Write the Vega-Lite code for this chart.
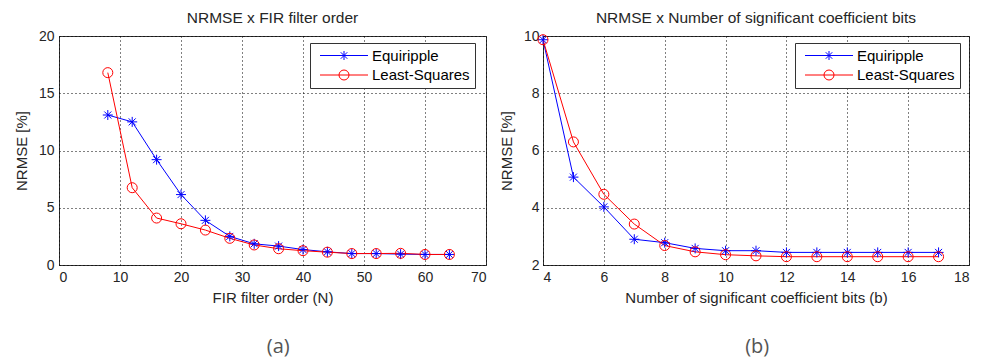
{
  "$schema": "https://vega.github.io/schema/vega-lite/v6.json",
  "background": "white",
  "padding": {"left": 13, "top": 10, "right": 5, "bottom": 0},
  "spacing": 11,
  "resolve": {"scale": {"color": "independent", "shape": "independent"}, "legend": {"color": "independent", "shape": "independent"}},
  "datasets": {
    "fir": [
      {"x": 8, "y": 13.1, "series": "Equiripple"},
      {"x": 12, "y": 12.5, "series": "Equiripple"},
      {"x": 16, "y": 9.2, "series": "Equiripple"},
      {"x": 20, "y": 6.15, "series": "Equiripple"},
      {"x": 24, "y": 3.9, "series": "Equiripple"},
      {"x": 28, "y": 2.5, "series": "Equiripple"},
      {"x": 32, "y": 1.85, "series": "Equiripple"},
      {"x": 36, "y": 1.65, "series": "Equiripple"},
      {"x": 40, "y": 1.35, "series": "Equiripple"},
      {"x": 44, "y": 1.15, "series": "Equiripple"},
      {"x": 48, "y": 1.0, "series": "Equiripple"},
      {"x": 52, "y": 1.0, "series": "Equiripple"},
      {"x": 56, "y": 0.95, "series": "Equiripple"},
      {"x": 60, "y": 0.92, "series": "Equiripple"},
      {"x": 64, "y": 0.92, "series": "Equiripple"},
      {"x": 8, "y": 16.8, "series": "Least-Squares"},
      {"x": 12, "y": 6.75, "series": "Least-Squares"},
      {"x": 16, "y": 4.1, "series": "Least-Squares"},
      {"x": 20, "y": 3.6, "series": "Least-Squares"},
      {"x": 24, "y": 3.05, "series": "Least-Squares"},
      {"x": 28, "y": 2.33, "series": "Least-Squares"},
      {"x": 32, "y": 1.75, "series": "Least-Squares"},
      {"x": 36, "y": 1.42, "series": "Least-Squares"},
      {"x": 40, "y": 1.25, "series": "Least-Squares"},
      {"x": 44, "y": 1.12, "series": "Least-Squares"},
      {"x": 48, "y": 1.0, "series": "Least-Squares"},
      {"x": 52, "y": 1.0, "series": "Least-Squares"},
      {"x": 56, "y": 1.02, "series": "Least-Squares"},
      {"x": 60, "y": 0.92, "series": "Least-Squares"},
      {"x": 64, "y": 0.92, "series": "Least-Squares"}
    ],
    "bits": [
      {"x": 4, "y": 9.87, "series": "Equiripple"},
      {"x": 5, "y": 5.07, "series": "Equiripple"},
      {"x": 6, "y": 4.03, "series": "Equiripple"},
      {"x": 7, "y": 2.9, "series": "Equiripple"},
      {"x": 8, "y": 2.78, "series": "Equiripple"},
      {"x": 9, "y": 2.58, "series": "Equiripple"},
      {"x": 10, "y": 2.5, "series": "Equiripple"},
      {"x": 11, "y": 2.5, "series": "Equiripple"},
      {"x": 12, "y": 2.44, "series": "Equiripple"},
      {"x": 13, "y": 2.44, "series": "Equiripple"},
      {"x": 14, "y": 2.44, "series": "Equiripple"},
      {"x": 15, "y": 2.44, "series": "Equiripple"},
      {"x": 16, "y": 2.44, "series": "Equiripple"},
      {"x": 17, "y": 2.44, "series": "Equiripple"},
      {"x": 4, "y": 9.87, "series": "Least-Squares"},
      {"x": 5, "y": 6.3, "series": "Least-Squares"},
      {"x": 6, "y": 4.47, "series": "Least-Squares"},
      {"x": 7, "y": 3.43, "series": "Least-Squares"},
      {"x": 8, "y": 2.68, "series": "Least-Squares"},
      {"x": 9, "y": 2.46, "series": "Least-Squares"},
      {"x": 10, "y": 2.36, "series": "Least-Squares"},
      {"x": 11, "y": 2.32, "series": "Least-Squares"},
      {"x": 12, "y": 2.29, "series": "Least-Squares"},
      {"x": 13, "y": 2.29, "series": "Least-Squares"},
      {"x": 14, "y": 2.29, "series": "Least-Squares"},
      {"x": 15, "y": 2.29, "series": "Least-Squares"},
      {"x": 16, "y": 2.29, "series": "Least-Squares"},
      {"x": 17, "y": 2.29, "series": "Least-Squares"}
    ]
  },
  "config": {
    "font": "Liberation Sans",
    "view": {"stroke": "#333333", "strokeWidth": 1},
    "axis": {
      "domain": false,
      "ticks": false,
      "grid": true,
      "gridColor": "#000000",
      "gridDash": [1, 3],
      "gridOpacity": 1,
      "gridWidth": 1,
      "labelFont": "Liberation Sans",
      "labelFontSize": 14,
      "labelColor": "#262626",
      "labelPadding": 5,
      "titleFont": "Liberation Sans",
      "titleFontSize": 15,
      "titleFontWeight": "normal",
      "titleColor": "#262626"
    },
    "axisY": {"titlePadding": 9},
    "axisX": {"titlePadding": 6},
    "title": {
      "font": "Liberation Sans",
      "fontSize": 15.5,
      "fontWeight": "normal",
      "color": "#262626",
      "offset": 3
    },
    "legend": {
      "labelFont": "Liberation Sans",
      "labelFontSize": 15,
      "labelColor": "#000000",
      "labelAlign": "left",
      "strokeColor": "#333333",
      "fillColor": "#ffffff",
      "padding": 5,
      "rowPadding": 3.5,
      "symbolSize": 100,
      "symbolStrokeWidth": 1,
      "symbolOffset": 0,
      "labelOffset": 42,
      "symbolOpacity": 1,
      "title": null
    }
  },
  "hconcat": [
    {
      "title": {"text": "(a)", "orient": "bottom", "anchor": "middle", "font": "Open Sans", "fontSize": 20, "color": "#555555", "offset": 31, "frame": "bounds", "dx": 28},
      "vconcat": [
        {
          "title": {"text": "NRMSE x FIR filter order", "frame": "group"},
          "width": 427,
          "height": 229,
          "data": {"name": "fir"},
          "encoding": {
            "x": {"field": "x", "type": "quantitative", "scale": {"domain": [0, 70], "nice": false}, "axis": {"values": [0, 10, 20, 30, 40, 50, 60, 70], "title": "FIR filter order (N)"}},
            "y": {"field": "y", "type": "quantitative", "scale": {"domain": [0, 20], "nice": false}, "axis": {"values": [0, 5, 10, 15, 20], "title": "NRMSE [%]"}}
          },
          "layer": [
            {
              "transform": [{"filter": "datum.series === 'Equiripple'"}],
              "mark": {"type": "line", "strokeWidth": 1, "color": "#0000ff"}
            },
            {
              "transform": [{"filter": "datum.series === 'Least-Squares'"}],
              "mark": {"type": "line", "strokeWidth": 1, "color": "#ff0000"}
            },
            {
              "transform": [{"filter": "datum.series === 'Equiripple'"}],
              "mark": {"type": "point", "filled": false, "strokeWidth": 1, "size": 100, "opacity": 1, "color": "#0000ff", "shape": "M-1,0L1,0M0,-1L0,1M-0.7,-0.7L0.7,0.7M-0.7,0.7L0.7,-0.7"}
            },
            {
              "transform": [{"filter": "datum.series === 'Least-Squares'"}],
              "mark": {"type": "point", "filled": false, "strokeWidth": 1, "size": 100, "opacity": 1, "color": "#ff0000", "shape": "circle"}
            },
            {
              "mark": {"type": "point", "filled": false, "opacity": 0},
              "encoding": {
                "color": {"field": "series", "type": "nominal", "scale": {"domain": ["Equiripple", "Least-Squares"], "range": ["#0000ff", "#ff0000"]}, "legend": {"orient": "none", "legendX": 251, "legendY": 7, "symbolOpacity": 1}},
                "shape": {"field": "series", "type": "nominal", "scale": {"domain": ["Equiripple", "Least-Squares"], "range": ["M-0.5,0L9.1,0M4.3,-0.9L4.3,0.9M3.65,-0.65L4.95,0.65M3.65,0.65L4.95,-0.65", "M-0.5,0L9.1,0M5.3,0A1,1,0,1,1,3.3,0A1,1,0,1,1,5.3,0"]}, "legend": {"orient": "none", "legendX": 251, "legendY": 7, "symbolOpacity": 1}}
              }
            }
          ]
        }
      ]
    },
    {
      "title": {"text": "(b)", "orient": "bottom", "anchor": "middle", "font": "Open Sans", "fontSize": 20, "color": "#555555", "offset": 31, "frame": "bounds", "dx": 23},
      "vconcat": [
        {
          "title": {"text": "NRMSE x Number of significant coefficient bits", "frame": "group"},
          "width": 426,
          "height": 229,
          "data": {"name": "bits"},
          "encoding": {
            "x": {"field": "x", "type": "quantitative", "scale": {"domain": [4, 18], "nice": false}, "axis": {"values": [4, 6, 8, 10, 12, 14, 16, 18], "title": "Number of significant coefficient bits (b)"}},
            "y": {"field": "y", "type": "quantitative", "scale": {"domain": [2, 10], "nice": false, "zero": false}, "axis": {"values": [2, 4, 6, 8, 10], "title": "NRMSE [%]", "labelPadding": 4}}
          },
          "layer": [
            {
              "transform": [{"filter": "datum.series === 'Equiripple'"}],
              "mark": {"type": "line", "strokeWidth": 1, "color": "#0000ff"}
            },
            {
              "transform": [{"filter": "datum.series === 'Least-Squares'"}],
              "mark": {"type": "line", "strokeWidth": 1, "color": "#ff0000"}
            },
            {
              "transform": [{"filter": "datum.series === 'Equiripple'"}],
              "mark": {"type": "point", "filled": false, "strokeWidth": 1, "size": 100, "opacity": 1, "color": "#0000ff", "shape": "M-1,0L1,0M0,-1L0,1M-0.7,-0.7L0.7,0.7M-0.7,0.7L0.7,-0.7"}
            },
            {
              "transform": [{"filter": "datum.series === 'Least-Squares'"}],
              "mark": {"type": "point", "filled": false, "strokeWidth": 1, "size": 100, "opacity": 1, "color": "#ff0000", "shape": "circle"}
            },
            {
              "mark": {"type": "point", "filled": false, "opacity": 0},
              "encoding": {
                "color": {"field": "series", "type": "nominal", "scale": {"domain": ["Equiripple", "Least-Squares"], "range": ["#0000ff", "#ff0000"]}, "legend": {"orient": "none", "legendX": 252, "legendY": 7, "symbolOpacity": 1}},
                "shape": {"field": "series", "type": "nominal", "scale": {"domain": ["Equiripple", "Least-Squares"], "range": ["M-0.5,0L9.1,0M4.3,-0.9L4.3,0.9M3.65,-0.65L4.95,0.65M3.65,0.65L4.95,-0.65", "M-0.5,0L9.1,0M5.3,0A1,1,0,1,1,3.3,0A1,1,0,1,1,5.3,0"]}, "legend": {"orient": "none", "legendX": 252, "legendY": 7, "symbolOpacity": 1}}
              }
            }
          ]
        }
      ]
    }
  ]
}
